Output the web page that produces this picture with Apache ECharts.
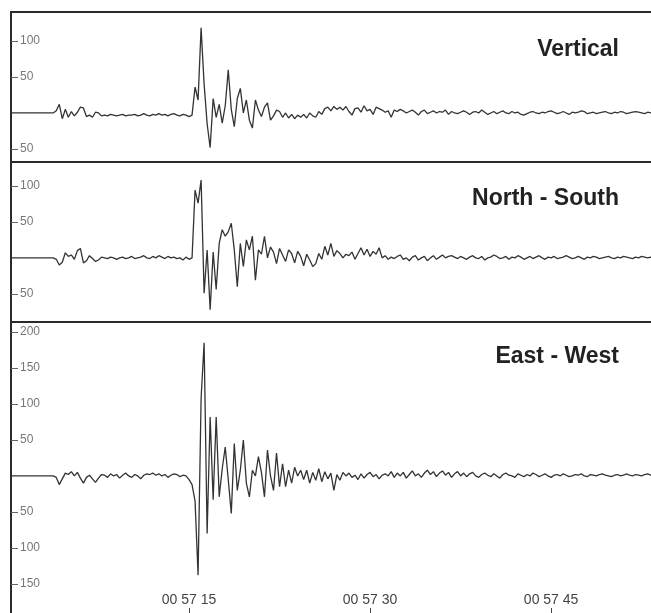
<!DOCTYPE html>
<html>
<head>
<meta charset="utf-8">
<script src="https://cdn.jsdelivr.net/npm/echarts@6/dist/echarts.min.js"></script>
<style>
    html,body{margin:0;padding:0;background:#fff;}
    #main{width:651px;height:613px;}
</style>
</head>
<body>
<div id="main"></div>
<script>
    // 采样：从 00 57 00.25 开始，每 0.25 秒一个点
    const sampleStart = 0.25;
    const sampleStep = 0.25;
    const timeMin = 0.25;
    const timeMax = 53.69;
    const timeTicks = [15, 30, 45];

    // 三个分量的振幅
    const vertical = [
        0,0,0,0,0,0,0,0,0,0,0,0,0,0,0,
        3,12,-8,5,-6,2,-4,1,8,7,-5,-3,-6,1,0,-4,
        -3,-4,-2,-3,-4,-3,-2,-4,-3,-3,-2,-4,-3,-1,-3,-4,-2,-3,-1,-3,-2,-4,-2,-1,-3,-4,-2,-3,-5,
        -3,36,18,118,40,-15,-48,20,-6,12,-14,10,60,5,-19,20,34,0,18,-10,
        -21,18,4,-5,8,14,-10,-4,4,2,-6,0,-7,-2,-8,-3,-6,-2,-7,0,
        -4,-6,2,-2,6,8,3,9,5,8,4,9,2,-3,6,7,1,10,3,5,
        -2,8,6,4,1,3,-6,4,2,5,3,0,2,4,1,-3,2,4,-1,1,
        3,0,2,1,4,-2,2,0,-1,1,
        3,1,-2,1,2,0,4,1,-2,0,2,-1,1,3,0,-1,2,0,1,-2,
        -3,-1,1,2,0,-1,1,0,2,3,1,-1,0,2,0,-2,1,0,1,3,
        2,-1,0,1,-1,0,1,2,0,-1,1,0,2,1,-1,0,1,2,1,0,
        -1,1,0,1,0
    ];
    const northSouth = [
        0,0,0,0,0,0,0,0,0,0,0,0,0,0,0,
        -2,-10,-6,7,2,4,-2,10,13,-7,-4,3,-1,-5,-3,1,
        0,-1,1,0,-2,0,1,-1,0,2,-1,0,1,3,0,-1,2,0,3,1,-1,2,0,1,-1,0,-3,1,-2,
        0,94,76,108,-49,11,-72,8,-44,20,39,30,36,48,11,-40,20,-12,25,11,
        30,-31,11,5,30,0,15,8,-8,13,4,-5,11,6,-7,9,2,-11,5,-3,
        -12,-8,6,-2,16,4,20,2,10,6,0,5,3,8,-2,6,14,4,12,2,
        9,5,14,0,3,-2,1,-1,2,4,-2,0,-4,1,3,-3,0,2,-4,0,
        3,-2,1,4,0,2,3,1,
        -1,2,0,-2,1,3,0,-1,2,-3,0,1,4,2,-1,0,2,-2,1,0,
        3,1,-2,0,2,-1,1,3,0,-2,1,0,2,-1,0,1,3,1,-1,0,
        2,0,-2,1,0,2,1,-1,0,1,2,0,-1,1,0,2,1,0,-1,1,
        0,2,1,0,1,0
    ];
    const eastWest = [
        0,0,0,0,0,0,0,0,0,0,0,0,0,0,0,
        -2,-12,-4,4,2,6,0,5,-3,-10,-2,1,-4,-9,-3,2,
        1,-2,3,0,2,-3,1,4,0,-2,2,0,-4,1,3,2,4,1,3,0,2,-2,1,3,2,-1,1,0,
        -5,-12,-35,-138,108,185,-80,82,-33,82,-29,10,40,-5,-52,45,-20,8,50,-10,
        -29,8,0,27,5,-29,36,0,-20,32,-15,17,-15,8,-10,12,0,8,-5,8,
        -10,5,-6,10,-8,6,-4,4,-20,2,-6,5,0,4,-2,1,-5,3,-3,2,
        5,-1,2,-4,1,3,0,6,-2,4,0,5,-3,2,7,0,3,-2,4,8,
        2,6,-1,4,7,1,5,-2,3,
        6,0,4,-1,3,5,0,-2,2,4,1,-1,3,0,-3,2,4,1,0,-2,
        3,1,-1,2,0,4,2,-1,1,3,0,-2,1,2,0,3,1,-1,0,2,
        1,3,0,-1,2,1,0,2,3,1,0,-1,1,2,0,1,3,1,0,2,
        1,0,2,3,1,2
    ];

    // 面板名称、纵轴范围、刻度
    const panelNames = ['Vertical', 'North - South', 'East - West'];
    const panelMin = [-68, -89, -203];
    const panelMax = [140, 133, 214];
    const panelTicks = [
        [-50, 50, 100],
        [-50, 50, 100],
        [-150, -100, -50, 50, 100, 150, 200]
    ];

    function toPairs(vals){
        let arr = [];
        for(let i=0;i<vals.length;i++){
            arr.push([sampleStart + i*sampleStep, vals[i]]);
        }
        return arr;
    }

    let myChart = echarts.init(document.getElementById('main'));
    let traces = [vertical, northSouth, eastWest];
    // 右边框、底边框推到画布外
    let gridPos = [
        {top:12, height:150},
        {top:162, height:160},
        {top:322, height:300}
    ];
    let titleTop = [38, 187, 345];

    let _option = {
        animation:false,
        backgroundColor:'#fff',
        title:[],
        grid:[],
        xAxis:[],
        yAxis:[],
        series:[]
    };
    for(let i=0;i<3;i++){
        _option.grid.push(Object.assign({
            left:11,
            width:645,
            outerBoundsMode:'none',
            containLabel:false,
            show:true,
            borderColor:'#2b2b2b',
            borderWidth:2
        }, gridPos[i]));
        _option.title.push({
            text:panelNames[i],
            right:32,
            top:titleTop[i],
            padding:0,
            textStyle:{
                fontFamily:'Liberation Sans, Arial, sans-serif',
                fontSize:23,
                fontWeight:'bold',
                color:'#222',
                lineHeight:24
            }
        });
        let last = i === 2;
        _option.xAxis.push({
            type:'value',
            gridIndex:i,
            position:'bottom',
            min:timeMin,
            max:timeMax,
            show:last,
            splitLine:{show:false},
            axisLine:{show:false, onZero:false},
            axisTick:{
                show:last,
                inside:true,
                length:14,
                customValues:timeTicks,
                lineStyle:{color:'#444'}
            },
            axisLabel:{
                show:last,
                inside:true,
                margin:15,
                customValues:timeTicks,
                fontFamily:'Liberation Sans, Arial, sans-serif',
                fontSize:14,
                color:'#444',
                formatter:function(v){ return '00 57 ' + v; }
            }
        });
        _option.yAxis.push({
            type:'value',
            gridIndex:i,
            min:panelMin[i],
            max:panelMax[i],
            splitLine:{show:false},
            axisLine:{show:false},
            axisTick:{
                show:true,
                inside:true,
                length:7,
                customValues:panelTicks[i],
                lineStyle:{color:'#666'}
            },
            axisLabel:{
                inside:true,
                margin:9,
                customValues:panelTicks[i],
                fontFamily:'Liberation Sans, Arial, sans-serif',
                fontSize:12,
                color:'#777',
                formatter:function(v){ return String(Math.abs(v)); }
            }
        });
        _option.series.push({
            type:'line',
            xAxisIndex:i,
            yAxisIndex:i,
            data:toPairs(traces[i]),
            symbol:'none',
            lineStyle:{color:'#333', width:1.3}
        });
    }
    myChart.setOption(_option);
</script>
</body>
</html>
